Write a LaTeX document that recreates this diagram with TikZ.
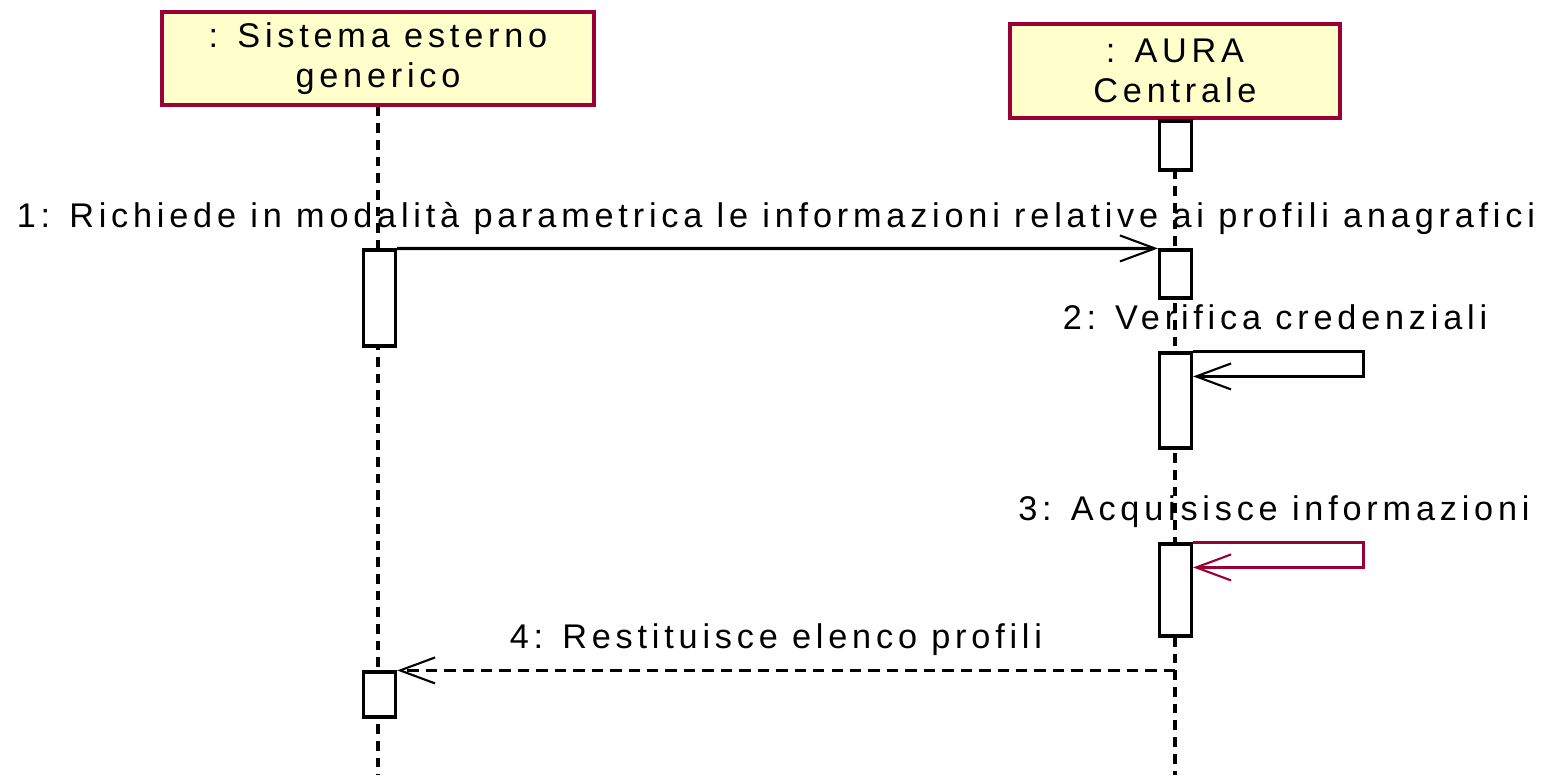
\documentclass[tikz,border=0pt]{standalone}
\usepackage{fontspec}
\setmainfont{Liberation Sans}[LetterSpace=14]
\usetikzlibrary{arrows.meta,calc}
\definecolor{boxfill}{RGB}{255,255,204}
\definecolor{maroon}{RGB}{153,0,51}
\begin{document}
\begin{tikzpicture}[x=0.02cm,y=-0.02cm,
  lbl/.style={font=\fontsize{19.5}{21}\selectfont, inner sep=0pt, anchor=base},
  head/.style={draw=maroon, fill=boxfill, line width=1.8pt, inner sep=0pt, align=center,
    font=\fontsize{19.5}{22.5}\selectfont},
  life/.style={line width=1.8pt, dash pattern=on 5.5pt off 4pt},
  act/.style={draw, fill=white, line width=1.8pt, minimum width=0.64cm, inner sep=0pt},
  msg/.style={line width=1.8pt, -{Straight Barb[length=0.7cm,width=0.52cm,line width=1.2pt]}},
  ret/.style={msg, dash pattern=on 6.5pt off 4pt}]
\useasboundingbox (0,0) rectangle (1545,775);
% headers
\node[head, minimum width=8.64cm, minimum height=1.86cm] (S) at (378,58.5)
  {: Sistema esterno\\generico};
\node[head, minimum width=6.6cm, minimum height=1.88cm] (A) at (1175,71)
  {: AURA\\Centrale};
% lifelines
\coordinate (Sb) at (S.south |- 0,775);
\coordinate (Ab) at (A.south |- 0,775);
\draw[life] (S.south) -- (Sb);
\draw[life] (A.south) -- (Ab);
% activations
\node[act, minimum height=0.98cm] (a0) at (1175.5,145.5) {};
\node[act, minimum height=1.92cm] (a1L) at (379.5,298) {};
\node[act, minimum height=0.96cm] (a1R) at (1175.5,274) {};
\node[act, minimum height=1.90cm] (a2) at (1175.5,400.5) {};
\node[act, minimum height=1.84cm] (a3) at (1175.5,590) {};
\node[act, minimum height=0.90cm] (a4L) at (379.5,694.5) {};
% message 1
\draw[msg] (a1L.north east) -- (a1R.north west);
\node[lbl] (l1) at (776,227) {1: Richiede in modalità parametrica le informazioni relative ai profili anagrafici};
% message 2
\draw[msg] (a2.north east) -- ++(170,0) -- ++(0,25) -- ($(a2.north east)+(0,25)$);
\node[lbl] (l2) at (1275,329) {2: Verifica credenziali};
% message 3
\draw[msg, maroon] (a3.north east) -- ++(170,0) -- ++(0,25) -- ($(a3.north east)+(0,25)$);
\node[lbl] (l3) at (1274,520) {3: Acquisisce informazioni};
% message 4
\draw[ret] (a4L.north -| A.south) -- (a4L.north east);
\node[lbl] (l4) at (776,648) {4: Restituisce elenco profili};
\end{tikzpicture}
\end{document}
